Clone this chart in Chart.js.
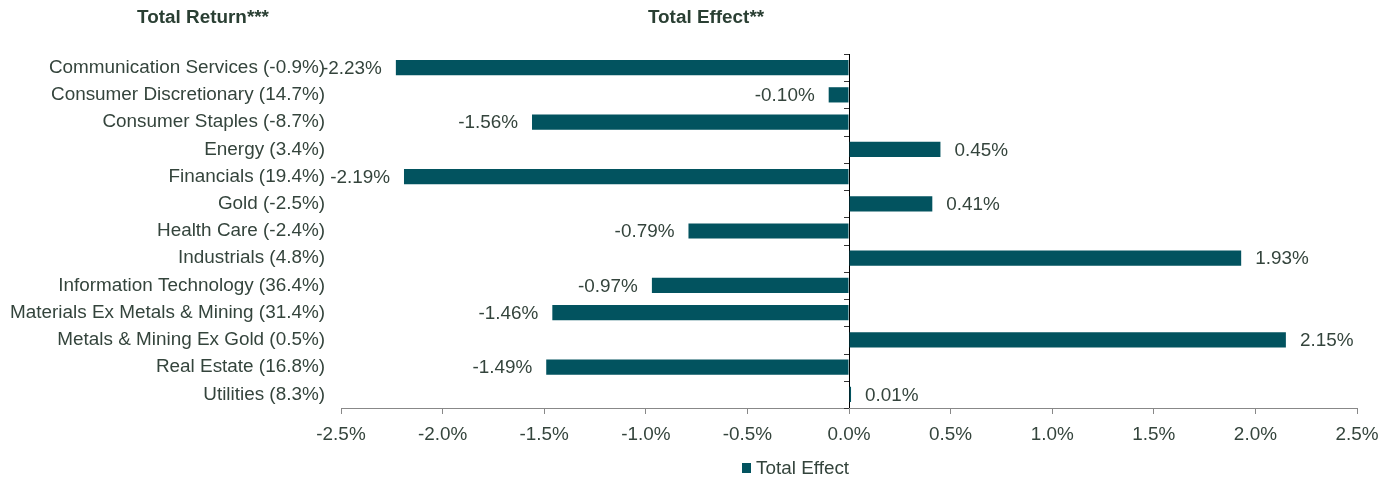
<!DOCTYPE html>
<html>
<head>
<meta charset="utf-8">
<script src="https://cdn.jsdelivr.net/npm/chart.js@4.4.1/dist/chart.umd.min.js"></script>
<style>
html,body{margin:0;padding:0;background:#fff;}
#wrap{position:relative;width:1398px;height:479px;}
</style>
</head>
<body>
<div id="wrap"><canvas id="c" width="1398" height="479"></canvas></div>
<script>
const categories = [
  "Communication Services (-0.9%)",
  "Consumer Discretionary (14.7%)",
  "Consumer Staples (-8.7%)",
  "Energy (3.4%)",
  "Financials (19.4%)",
  "Gold (-2.5%)",
  "Health Care (-2.4%)",
  "Industrials (4.8%)",
  "Information Technology (36.4%)",
  "Materials Ex Metals & Mining (31.4%)",
  "Metals & Mining Ex Gold (0.5%)",
  "Real Estate (16.8%)",
  "Utilities (8.3%)"
];
const totalEffect = [-2.23, -0.10, -1.56, 0.45, -2.19, 0.41, -0.79, 1.93, -0.97, -1.46, 2.15, -1.49, 0.01];
const xTicks = [-2.5, -2.0, -1.5, -1.0, -0.5, 0.0, 0.5, 1.0, 1.5, 2.0, 2.5];
const seriesName = "Total Effect";
const titleLeft = "Total Return***";
const titleRight = "Total Effect**";

const TEXT = '#34443c';
const BAR = '#02535f';
const FONT = "'Liberation Sans', Arial, sans-serif";
const FS = 18.9;

const overlay = {
  id: 'overlay',
  afterDraw(chart) {
    const ctx = chart.ctx;
    const x = chart.scales.x, y = chart.scales.y;
    ctx.save();
    // titles
    ctx.fillStyle = '#2a3f33';
    ctx.font = "bold " + FS + "px " + FONT;
    ctx.textAlign = 'center';
    ctx.textBaseline = 'middle';
    ctx.fillText(titleLeft, 203, 18);
    ctx.fillText(titleRight, 706, 18);
    // small ticks on zero line at category boundaries
    const x0 = x.getPixelForValue(0);
    ctx.strokeStyle = '#333';
    ctx.lineWidth = 1;
    const n = categories.length;
    for (let i = 0; i <= n; i++) {
      const py = Math.round(y.top + (y.bottom - y.top) * i / n) + 0.5;
      ctx.beginPath();
      ctx.moveTo(x0 - 5, py);
      ctx.lineTo(x0, py);
      ctx.stroke();
    }
    // data labels
    ctx.font = FS + "px " + FONT;
    ctx.fillStyle = TEXT;
    const meta = chart.getDatasetMeta(0);
    meta.data.forEach((bar, i) => {
      const v = totalEffect[i];
      const txt = v.toFixed(2) + '%';
      if (v < 0) {
        ctx.textAlign = 'right';
        ctx.fillText(txt, bar.x - 14, bar.y + 1);
      } else {
        ctx.textAlign = 'left';
        ctx.fillText(txt, bar.x + 14, bar.y + 1);
      }
    });
    // legend
    ctx.fillStyle = BAR;
    ctx.fillRect(742, 463, 9, 10);
    ctx.fillStyle = TEXT;
    ctx.textAlign = 'left';
    ctx.fillText(seriesName, 756, 468.5);
    ctx.restore();
  }
};

new Chart(document.getElementById('c'), {
  type: 'bar',
  data: {
    labels: categories,
    datasets: [{
      label: seriesName,
      data: totalEffect,
      backgroundColor: BAR,
      borderWidth: 0,
      barPercentage: 0.56,
      categoryPercentage: 1.0
    }]
  },
  options: {
    indexAxis: 'y',
    responsive: false,
    animation: false,
    devicePixelRatio: 1,
    layout: { padding: { top: 54, right: 41, bottom: 36, left: 0 } },
    plugins: {
      legend: { display: false },
      tooltip: { enabled: false }
    },
    scales: {
      x: {
        min: -2.5, max: 2.5,
        afterBuildTicks(scale) { scale.ticks = xTicks.map(v => ({ value: v })); },
        afterFit(scale) { scale.height = 35; },
        ticks: {
          color: TEXT,
          font: { family: FONT, size: FS },
          padding: 9,
          maxRotation: 0,
          callback: (v) => Number(v).toFixed(1) + '%'
        },
        grid: {
          drawOnChartArea: true,
          color: (c) => (c.tick && c.tick.value === 0) ? '#000' : 'rgba(0,0,0,0)',
          tickColor: '#888',
          tickLength: 6,
          lineWidth: 1
        },
        border: { display: true, color: '#888', width: 1 }
      },
      y: {
        afterFit(scale) { scale.width = 341; },
        ticks: {
          color: TEXT,
          font: { family: FONT, size: FS },
          padding: 16,
          autoSkip: false
        },
        grid: { display: false, drawTicks: false },
        border: { display: false }
      }
    }
  },
  plugins: [overlay]
});
</script>
</body>
</html>
